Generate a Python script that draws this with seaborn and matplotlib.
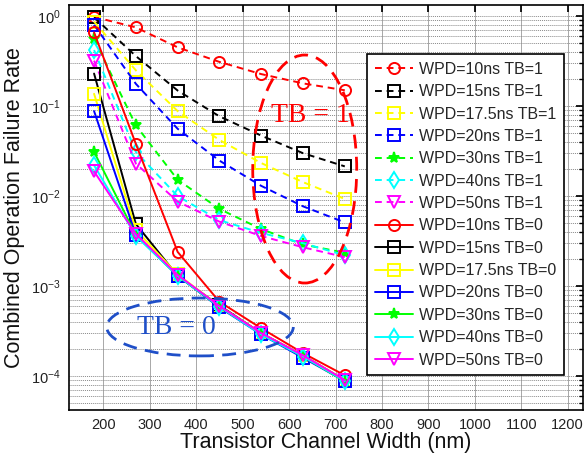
import matplotlib
matplotlib.use("Agg")
import matplotlib.pyplot as plt
import seaborn as sns
import numpy as np
import pandas as pd
from matplotlib.patches import Ellipse
from matplotlib.ticker import LogLocator, FixedLocator, NullFormatter

sns.set_theme(style="white")
plt.rcParams['font.family'] = ['Liberation Sans', 'DejaVu Sans']
plt.rcParams['mathtext.default'] = 'regular'

# ---- data ----
widths = [180, 270, 360, 450, 540, 630, 720]

wpd_labels = ["10ns", "15ns", "17.5ns", "20ns", "30ns", "40ns", "50ns"]

tb1_10 = [0.98, 0.75, 0.45, 0.31, 0.227, 0.179, 0.15]
tb1_15 = [0.97, 0.36, 0.149, 0.077, 0.047, 0.030, 0.0214]
tb1_175 = [0.87, 0.25, 0.088, 0.042, 0.0233, 0.0143, 0.0093]
tb1_20 = [0.80, 0.177, 0.056, 0.0248, 0.013, 0.0077, 0.0051]
tb1_30 = [0.56, 0.061, 0.0152, 0.0072, 0.0043, 0.0029, 0.00235]
tb1_40 = [0.42, 0.031, 0.0100, 0.0054, 0.0039, 0.0030, 0.0022]
tb1_50 = [0.32, 0.023, 0.0087, 0.0052, 0.0036, 0.0027, 0.0021]

tb0_10 = [0.66, 0.038, 0.0024, 6.7e-4, 3.4e-4, 1.8e-4, 1.02e-4]
tb0_15 = [0.23, 0.0049, 0.0013, 6.1e-4, 3.0e-4, 1.7e-4, 9.0e-5]
tb0_175 = [0.137, 0.0042, 0.00135, 6.0e-4, 3.0e-4, 1.7e-4, 9.0e-5]
tb0_20 = [0.088, 0.0037, 0.0013, 5.8e-4, 2.9e-4, 1.6e-4, 8.8e-5]
tb0_30 = [0.031, 0.0037, 0.0013, 5.9e-4, 2.95e-4, 1.65e-4, 8.7e-5]
tb0_40 = [0.022, 0.0036, 0.0013, 5.9e-4, 2.9e-4, 1.65e-4, 8.8e-5]
tb0_50 = [0.0188, 0.0038, 0.00133, 6.0e-4, 3.0e-4, 1.7e-4, 9.0e-5]

tb1_series = [tb1_10, tb1_15, tb1_175, tb1_20, tb1_30, tb1_40, tb1_50]
tb0_series = [tb0_10, tb0_15, tb0_175, tb0_20, tb0_30, tb0_40, tb0_50]

xticks = [200, 300, 400, 500, 600, 700, 800, 900, 1000, 1100, 1200]

colors = ["#ff0000", "#000000", "#ffff00", "#0000ff", "#00ff00", "#00ffff", "#ff00ff"]
markers = ["o", "s", "s", "s", "*", "d", "v"]

fig = plt.figure(figsize=(5.85, 4.61), dpi=100)
ax = fig.add_axes([69/585, 51/461, 514/585, 405/461])

def draw(series, tb, ls):
    for lab, vals, c, m in zip(wpd_labels, series, colors, markers):
        df = pd.DataFrame({"x": widths, "y": vals})
        filled = (m == "*")
        sns.lineplot(data=df, x="x", y="y", ax=ax, color=c, linewidth=1.4,
                     linestyle=ls, marker=m,
                     markersize=8,
                     markerfacecolor=c if filled else "none",
                     markeredgecolor=c, markeredgewidth=1.4,
                     label=f"WPD={lab} TB={tb}")

draw(tb1_series, 1, (0, (3.5, 2.5)))
draw(tb0_series, 0, "-")

ax.set_yscale("log")
ax.set_xlim(126, 1233)
ax.set_ylim(4.2e-5, 1.33)
ax.xaxis.set_major_locator(FixedLocator(xticks))
ax.yaxis.set_major_locator(LogLocator(base=10, numticks=10))
ax.yaxis.set_minor_locator(LogLocator(base=10, subs=np.arange(2, 10), numticks=20))
ax.yaxis.set_minor_formatter(NullFormatter())

ax.grid(True, which="major", axis="x", color="#9a9a9a", linewidth=0.6, linestyle="-")
ax.grid(True, which="both", axis="y", color="#8a8a8a", linewidth=0.7, linestyle=(0, (1, 1)))
ax.set_axisbelow(True)

for s in ax.spines.values():
    s.set_color("black")
    s.set_linewidth(1.2)
ax.tick_params(axis="both", which="both", direction="in", top=True, right=True,
               labelsize=10.5, colors="black", labelcolor="#222222")
ax.tick_params(which="major", length=5, pad=6)
ax.tick_params(which="minor", length=3)

ax.set_xlabel("Transistor Channel Width (nm)", fontsize=15.5, color="#111111", labelpad=0)
ax.set_ylabel("Combined Operation Failure Rate", fontsize=15.5, color="#111111", labelpad=4)

leg = ax.legend(loc="upper left", bbox_to_anchor=(0.58, 0.879), fontsize=11.5,
                frameon=True, fancybox=False, edgecolor="black", framealpha=1,
                handlelength=2.35, labelspacing=0.46, borderpad=0.5, handletextpad=0.4,
                borderaxespad=0, numpoints=1)
leg.get_frame().set_linewidth(1.2)

ax.add_patch(Ellipse((0.4586, 0.595), 0.2023, 0.563, transform=ax.transAxes,
                     fill=False, edgecolor="#ff0000", linewidth=2,
                     linestyle=(0, (5, 3)), zorder=5))
ax.add_patch(Ellipse((0.2549, 0.205), 0.363, 0.143, transform=ax.transAxes,
                     fill=False, edgecolor="#1f4fc8", linewidth=2,
                     linestyle=(0, (5, 3)), zorder=5))
ax.text(0.469, 0.728, "TB = 1", transform=ax.transAxes, color="#ff0000",
        fontsize=20, family=["Liberation Serif", "DejaVu Serif"], ha="center", va="center", zorder=6)
ax.text(0.2095, 0.2025, "TB = 0", transform=ax.transAxes, color="#1f4fc8",
        fontsize=20, family=["Liberation Serif", "DejaVu Serif"], ha="center", va="center", zorder=6)

fig.savefig("out.png", dpi=100)
